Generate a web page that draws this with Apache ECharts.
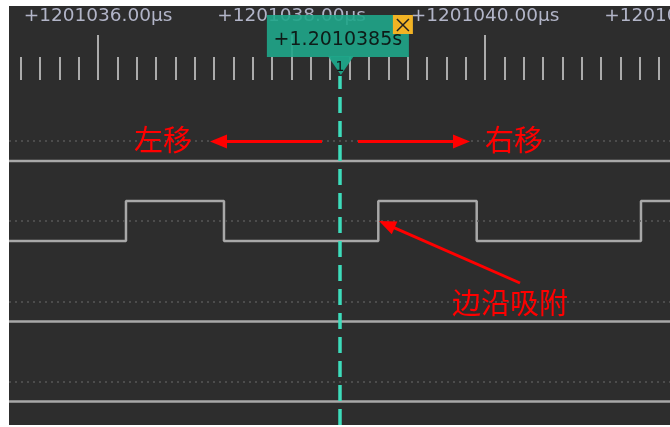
<!DOCTYPE html>
<html>

<head>
    <meta charset="utf-8">
    <title>ECharts</title>
    <script src="https://cdn.jsdelivr.net/npm/echarts@6/dist/echarts.min.js"></script>
    <style>
        body { margin: 0; background: #fff; }
        #wrap { position: relative; width: 670px; height: 427px; background: #fff; overflow: hidden; }
        #bg { position: absolute; left: 9px; top: 6px; width: 661px; height: 419px; background: #2d2d2d; }
        #main { position: absolute; left: 0; top: 0; width: 670px; height: 427px; }
    </style>
</head>

<body>
    <div id="wrap">
        <div id="bg"></div>
        <div id="main"></div>
    </div>
    <script type="text/javascript">
        // visible time span in µs (right end runs a bit past the window)
        var timeMin = 1201035.08
        var timeMax = 1201042.1
        var majorTicks = [1201034, 1201036, 1201038, 1201040, 1201042]
        var cursorTime = 1201038.5
        var cursorLabel = "+1.2010385s"

        // channel levels: [time µs, level]
        var ch0 = [[1201035.08, 0], [1201042.1, 0]]
        var ch1 = [[1201035.08, 0], [1201036.289, 1], [1201037.302, 0], [1201038.897, 1], [1201039.914, 0], [1201041.612, 1], [1201042.1, 1]]
        var ch2 = [[1201035.08, 0], [1201042.1, 0]]
        var ch3 = [[1201035.08, 0], [1201042.1, 0]]
        var channels = [ch0, ch1, ch2, ch3]
        var rowMids = [141, 221, 301.5, 381.5]

        var minorTicks = []
        majorTicks.forEach(function (m) {
            for (var k = 0; k < 10; k++) minorTicks.push(Math.round((m + 0.2 * k) * 10) / 10)
        })

        var gridW = 679.2
        function grid(top, height) {
            return { left: 9, width: gridW, top: top, height: height, outerBoundsMode: "none", containLabel: false }
        }
        var grids = [grid(6, 74)]
        var xAxes = [
            {
                gridIndex: 0, type: "value", position: "bottom", min: timeMin, max: timeMax,
                axisLine: { show: false }, splitLine: { show: false },
                axisTick: { inside: true, length: 45, customValues: majorTicks, lineStyle: { color: "#ababab", width: 2 } },
                axisLabel: {
                    inside: true, margin: 54, customValues: majorTicks,
                    color: "#b2b5c8", fontSize: 18.5, fontFamily: "DejaVu Sans",
                    formatter: function (v) { return "+" + v.toFixed(2) + "µs" }
                }
            },
            {
                gridIndex: 0, type: "value", position: "bottom", min: timeMin, max: timeMax,
                axisLine: { show: false }, splitLine: { show: false },
                axisTick: { inside: true, length: 23, customValues: minorTicks, lineStyle: { color: "#ababab", width: 2 } },
                axisLabel: { show: false }
            }
        ]
        var yAxes = [{ gridIndex: 0, type: "value", show: false, min: 0, max: 1 }]
        var series = []

        channels.forEach(function (ch, i) {
            var g = i + 1
            grids.push(grid(rowMids[i] - 40, 80))
            xAxes.push({ gridIndex: g, type: "value", show: false, min: timeMin, max: timeMax })
            yAxes.push({ gridIndex: g, type: "value", show: false, min: -0.5, max: 1.5 })
            series.push({
                type: "line", xAxisIndex: g + 1, yAxisIndex: g, data: ch, step: "end",
                symbol: "none", animation: false, silent: true,
                lineStyle: { color: "#a8a8a8", width: 2.5 },
                markLine: {
                    silent: true, symbol: "none", animation: false, label: { show: false },
                    lineStyle: { color: "#575757", type: [2, 4], width: 1.5 },
                    data: [{ yAxis: 0.5 }]
                }
            })
        })

        // cursor grid
        grids.push(grid(76, 349))
        xAxes.push({ gridIndex: 5, type: "value", show: false, min: timeMin, max: timeMax })
        yAxes.push({ gridIndex: 5, type: "value", show: false, min: 0, max: 1 })
        series.push({
            type: "line", xAxisIndex: 6, yAxisIndex: 5, data: [[cursorTime, 0.5]],
            symbol: "none", animation: false, silent: true, lineStyle: { opacity: 0 },
            markLine: {
                silent: true, symbol: "none", animation: false, label: { show: false },
                lineStyle: { color: "#3ddcbb", type: [16, 8], width: 3.5 },
                data: [{ xAxis: cursorTime }]
            }
        })

        var myChart = echarts.init(document.getElementById("main"))
        myChart.setOption({
            animation: false,
            grid: grids,
            xAxis: xAxes,
            yAxis: yAxes,
            series: series
        })

        function arrow(x1, y1, x2, y2) {
            var dx = x2 - x1, dy = y2 - y1, len = Math.sqrt(dx * dx + dy * dy)
            var ux = dx / len, uy = dy / len, hl = 17, hw = 7
            var bx = x2 - ux * hl, by = y2 - uy * hl
            return [
                { type: "line", shape: { x1: x1, y1: y1, x2: bx + ux * 2, y2: by + uy * 2 }, style: { stroke: "#ff0000", lineWidth: 3 }, z: 100 },
                { type: "polygon", shape: { points: [[x2, y2], [bx - uy * hw, by + ux * hw], [bx + uy * hw, by - ux * hw]] }, style: { fill: "#ff0000" }, z: 100 }
            ]
        }

        var px = myChart.convertToPixel({ xAxisIndex: 0 }, cursorTime)
        var redFont = "29px 'Noto Sans CJK SC'"
        var els = [
            { type: "rect", shape: { x: px - 73, y: 15, width: 142, height: 42 }, style: { fill: "rgba(31,166,138,0.9)" }, z: 90 },
            { type: "polygon", shape: { points: [[px - 12, 56], [px + 14, 56], [px + 1, 75]] }, style: { fill: "rgba(31,166,138,0.95)" }, z: 90 },
            { type: "text", x: px - 2, y: 40, style: { text: cursorLabel, fill: "#0e1c18", font: "19px 'DejaVu Sans'", align: "center", verticalAlign: "middle" }, z: 91 },
            { type: "text", x: px, y: 67, style: { text: "1", fill: "#111", font: "14px 'DejaVu Sans'", align: "center", verticalAlign: "middle" }, z: 91 },
            { type: "rect", shape: { x: px + 53, y: 15, width: 20, height: 19 }, style: { fill: "#f2b324" }, z: 92 },
            { type: "line", shape: { x1: px + 57, y1: 19, x2: px + 69, y2: 31 }, style: { stroke: "#222", lineWidth: 1.5 }, z: 93 },
            { type: "line", shape: { x1: px + 69, y1: 19, x2: px + 57, y2: 31 }, style: { stroke: "#222", lineWidth: 1.5 }, z: 93 },
            { type: "text", x: 163, y: 140, style: { text: "左移", fill: "#ff0000", font: redFont, align: "center", verticalAlign: "middle" }, z: 100 },
            { type: "text", x: 514, y: 140, style: { text: "右移", fill: "#ff0000", font: redFont, align: "center", verticalAlign: "middle" }, z: 100 },
            { type: "text", x: 510, y: 303, style: { text: "边沿吸附", fill: "#ff0000", font: redFont, align: "center", verticalAlign: "middle" }, z: 100 }
        ]
        els = els.concat(arrow(322, 141.5, 210, 141.5), arrow(358, 141.5, 470, 141.5), arrow(520, 283, 379, 221))
        myChart.setOption({ graphic: { elements: els } })
    </script>
</body>

</html>
